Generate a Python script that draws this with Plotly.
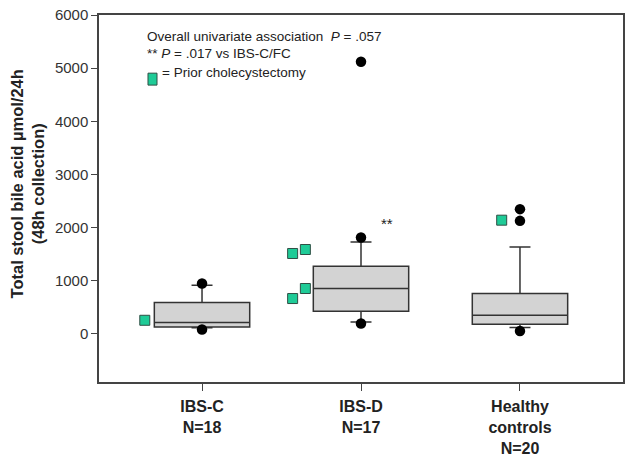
import plotly.graph_objects as go

# ---- data ----
groups = ["IBS-C<br>N=18", "IBS-D<br>N=17", "Healthy<br>controls<br>N=20"]
group_pos = [0, 1, 2]
q1 = [128, 424, 179]
median = [211, 852, 349]
q3 = [588, 1272, 757]
lower_fence = [113, 222, 117]
upper_fence = [914, 1729, 1635]

outlier_group = [0, 0, 1, 1, 1, 2, 2, 2]
outlier_values = [946, 79, 5120, 1812, 192, 2346, 2125, 53]

chole_group = [0, 1, 1, 1, 1, 2]
chole_offset = [-0.36, -0.43, -0.35, -0.43, -0.35, -0.115]
chole_values = [254, 1511, 1586, 663, 852, 2138]

y_ticks = [0, 1000, 2000, 3000, 4000, 5000, 6000]

FONT = "Arial, Liberation Sans, sans-serif"
GREEN = "#1fcb97"

fig = go.Figure()

for i in range(len(groups)):
    fig.add_trace(go.Box(
        x=[group_pos[i]], q1=[q1[i]], median=[median[i]], q3=[q3[i]],
        lowerfence=[lower_fence[i]], upperfence=[upper_fence[i]],
        width=0.6, whiskerwidth=0.22, boxpoints=False,
        fillcolor="#d3d3d3", line=dict(color="#333333", width=1.5),
        showlegend=False, hoverinfo="skip",
    ))

fig.add_trace(go.Scatter(
    x=[group_pos[g] for g in outlier_group], y=outlier_values, mode="markers",
    marker=dict(color="black", size=10.5, symbol="circle"),
    showlegend=False, hoverinfo="skip",
))

fig.add_trace(go.Scatter(
    x=[group_pos[g] + o for g, o in zip(chole_group, chole_offset)], y=chole_values,
    mode="markers",
    marker=dict(color=GREEN, size=10, symbol="square",
                line=dict(color="#2f4f45", width=1)),
    showlegend=False, hoverinfo="skip",
))

fig.add_annotation(x=1.162, y=2076, xref="x", yref="y", text="**", showarrow=False,
                   font=dict(family=FONT, size=15, color="#222"))

# text block
fig.add_annotation(x=0.087, y=0.941, xref="paper", yref="paper", xanchor="left", yanchor="middle",
                   text="Overall univariate association\u00a0\u00a0<i>P</i> = .057", showarrow=False,
                   font=dict(family=FONT, size=13.5, color="#222"))
fig.add_annotation(x=0.087, y=0.8956, xref="paper", yref="paper", xanchor="left", yanchor="middle",
                   text="** <i>P</i> = .017 vs IBS-C/FC", showarrow=False,
                   font=dict(family=FONT, size=13.5, color="#222"))
fig.add_annotation(x=0.117, y=0.8428, xref="paper", yref="paper", xanchor="left", yanchor="middle",
                   text="= Prior cholecystectomy", showarrow=False,
                   font=dict(family=FONT, size=13.5, color="#222"))
fig.add_shape(type="rect", xref="paper", yref="paper", x0=0.0935, x1=0.1107, y0=0.809, y1=0.8415,
              fillcolor=GREEN, line=dict(color="#2f4f45", width=1))

# y-axis title as rotated annotation
fig.add_annotation(x=-0.137, y=0.539, xref="paper", yref="paper", xanchor="center", yanchor="middle",
                   text="<b>Total stool bile acid µmol/24h<br>(48h collection)</b>", textangle=-90,
                   showarrow=False, font=dict(family=FONT, size=16.5, color="#222"))

fig.update_xaxes(
    range=[-0.648, 2.648], tickvals=group_pos, ticktext=["<b>%s</b>" % g for g in groups],
    ticks="outside", ticklen=7, tickcolor="#444", showline=True, linecolor="#444", linewidth=1.5,
    mirror=True, showgrid=False, zeroline=False, ticklabelstandoff=2, automargin=False,
    tickfont=dict(family=FONT, size=16, color="#222"),
)
fig.update_yaxes(
    range=[-908, 6000], tickvals=y_ticks, ticks="outside", ticklen=6, tickcolor="#444",
    showline=True, linecolor="#444", linewidth=1.5, mirror=True, showgrid=False, zeroline=False,
    automargin=False, tickfont=dict(family=FONT, size=15, color="#333"),
)
fig.update_layout(
    width=634, height=459, margin=dict(l=99, r=11, t=15, b=77),
    paper_bgcolor="white", plot_bgcolor="white",
)

fig.write_html("out.html", config={"displayModeBar": False},
               post_script="document.body.style.margin='0';")
